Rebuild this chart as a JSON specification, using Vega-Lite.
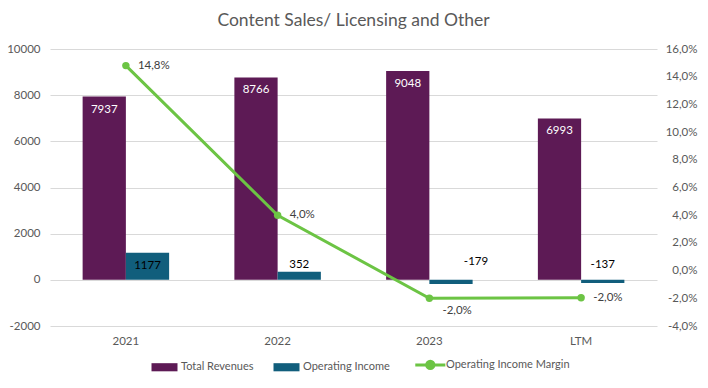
{
  "$schema": "https://vega.github.io/schema/vega-lite/v6.json",
  "autosize": "none",
  "width": 607,
  "height": 277,
  "padding": {"left": 50, "top": 49, "right": 51, "bottom": 62},
  "background": "white",
  "config": {
    "view": {"stroke": null},
    "font": "Lato",
    "locale": {"number": {"decimal": ",", "thousands": ".", "grouping": [3], "currency": ["", " €"], "minus": "-"}},
    "axis": {"labelFont": "Lato", "labelFontSize": 11.5, "labelColor": "#595959", "domain": false, "ticks": false, "title": null}
  },
  "title": {"text": "Content Sales/ Licensing and Other", "fontSize": 17.5, "fontWeight": "normal", "color": "#595959", "font": "Lato", "offset": 14},
  "datasets": {
    "bars": [
      {"cat": "2021", "series": "Total Revenues", "value": 7937},
      {"cat": "2021", "series": "Operating Income", "value": 1177},
      {"cat": "2022", "series": "Total Revenues", "value": 8766},
      {"cat": "2022", "series": "Operating Income", "value": 352},
      {"cat": "2023", "series": "Total Revenues", "value": 9048},
      {"cat": "2023", "series": "Operating Income", "value": -179},
      {"cat": "LTM", "series": "Total Revenues", "value": 6993},
      {"cat": "LTM", "series": "Operating Income", "value": -137}
    ],
    "margin": [
      {"cat": "2021", "margin": 0.148},
      {"cat": "2022", "margin": 0.040},
      {"cat": "2023", "margin": -0.020},
      {"cat": "LTM", "margin": -0.0196}
    ]
  },
  "encoding": {
    "x": {"field": "cat", "type": "nominal", "sort": ["2021", "2022", "2023", "LTM"],
      "scale": {"paddingInner": 0.43, "paddingOuter": 0.215},
      "axis": {"labelAngle": 0, "labelPadding": 9, "grid": false}}
  },
  "layer": [
    {
      "data": {"name": "bars"},
      "layer": [
        {
          "mark": {"type": "bar"},
          "encoding": {
            "xOffset": {"field": "series", "type": "nominal", "sort": ["Total Revenues", "Operating Income"], "scale": {"paddingInner": 0, "paddingOuter": 0}},
            "y": {"field": "value", "type": "quantitative",
              "scale": {"domain": [-2000, 10000], "nice": false},
              "axis": {"values": [-2000, 0, 2000, 4000, 6000, 8000, 10000], "format": "d", "labelPadding": 10, "grid": true, "gridColor": "#d9d9d9", "orient": "left"}},
            "color": {"field": "series", "type": "nominal",
              "scale": {"domain": ["Total Revenues", "Operating Income", "Operating Income Margin"], "range": ["#5d1a55", "#115e7c", "#6cc444"]},
              "legend": {
                "orient": "none", "legendX": 109, "legendY": 310, "direction": "horizontal", "title": null,
                "labelFont": "Lato", "labelFontSize": 11, "labelColor": "#595959",
                "symbolSize": 264, "labelOffset": 11, "columnPadding": 19,
                "encode": {"symbols": {"update": {
                  "shape": {"signal": "datum.value === 'Operating Income Margin' ? 'M-1.75,0H1.95M-0.35,0A0.45,0.45 0 1,0 0.55,0A0.45,0.45 0 1,0 -0.35,0' : 'M-1.6,-0.5H1.6V0.5H-1.6Z'"},
                  "fill": {"scale": "color", "field": "value"},
                  "stroke": {"scale": "color", "field": "value"},
                  "strokeWidth": {"signal": "datum.value === 'Operating Income Margin' ? 3 : 0"},
                  "opacity": {"value": 1}
                }}}
              }}
          }
        },
        {
          "transform": [{"filter": "datum.series === 'Total Revenues'"}],
          "mark": {"type": "text", "dy": 13, "baseline": "middle", "color": "white", "fontSize": 11.5},
          "encoding": {
            "xOffset": {"field": "series", "type": "nominal", "sort": ["Total Revenues", "Operating Income"]},
            "y": {"field": "value", "type": "quantitative"},
            "text": {"field": "value", "type": "quantitative", "format": "d"}
          }
        },
        {
          "transform": [{"filter": "datum.series === 'Operating Income' && datum.cat === '2021'"}],
          "mark": {"type": "text", "dy": 13, "baseline": "middle", "color": "#000000", "fontSize": 11.5},
          "encoding": {
            "xOffset": {"field": "series", "type": "nominal", "sort": ["Total Revenues", "Operating Income"]},
            "y": {"field": "value", "type": "quantitative"},
            "text": {"field": "value", "type": "quantitative", "format": "d"}
          }
        },
        {
          "transform": [{"filter": "datum.series === 'Operating Income' && datum.cat === '2022'"}],
          "mark": {"type": "text", "dy": -7, "baseline": "middle", "color": "#000000", "fontSize": 11.5},
          "encoding": {
            "xOffset": {"field": "series", "type": "nominal", "sort": ["Total Revenues", "Operating Income"]},
            "y": {"field": "value", "type": "quantitative"},
            "text": {"field": "value", "type": "quantitative", "format": "d"}
          }
        },
        {
          "transform": [{"filter": "datum.series === 'Operating Income' && datum.cat === '2023'"}],
          "mark": {"type": "text", "dx": 25, "dy": -22, "baseline": "middle", "color": "#000000", "fontSize": 11.5},
          "encoding": {
            "xOffset": {"field": "series", "type": "nominal", "sort": ["Total Revenues", "Operating Income"]},
            "y": {"field": "value", "type": "quantitative"},
            "text": {"field": "value", "type": "quantitative", "format": "d"}
          }
        },
        {
          "transform": [{"filter": "datum.series === 'Operating Income' && datum.cat === 'LTM'"}],
          "mark": {"type": "text", "dy": -18, "baseline": "middle", "color": "#000000", "fontSize": 11.5},
          "encoding": {
            "xOffset": {"field": "series", "type": "nominal", "sort": ["Total Revenues", "Operating Income"]},
            "y": {"field": "value", "type": "quantitative"},
            "text": {"field": "value", "type": "quantitative", "format": "d"}
          }
        }
      ]
    },
    {
      "data": {"name": "margin"},
      "encoding": {
        "y": {"field": "margin", "type": "quantitative",
          "scale": {"domain": [-0.04, 0.16], "nice": false},
          "axis": {"orient": "right", "values": [-0.04, -0.02, 0, 0.02, 0.04, 0.06, 0.08, 0.1, 0.12, 0.14, 0.16], "format": ".1%", "labelAlign": "right", "labelPadding": 40, "grid": false}}
      },
      "layer": [
        {
          "mark": {"type": "line", "color": "#6cc444", "strokeWidth": 3, "point": {"filled": true, "size": 55, "color": "#6cc444"}},
          "encoding": {"color": {"datum": "Operating Income Margin", "type": "nominal"}}
        },
        {
          "transform": [{"filter": "datum.cat !== '2023'"}],
          "mark": {"type": "text", "dx": 12, "align": "left", "baseline": "middle", "color": "#404040", "fontSize": 11.5},
          "encoding": {"text": {"field": "margin", "type": "quantitative", "format": ".1%"}}
        },
        {
          "transform": [{"filter": "datum.cat === '2023'"}],
          "mark": {"type": "text", "dx": 13, "dy": 13, "align": "left", "baseline": "middle", "color": "#404040", "fontSize": 11.5},
          "encoding": {"text": {"field": "margin", "type": "quantitative", "format": ".1%"}}
        }
      ]
    }
  ],
  "resolve": {"scale": {"y": "independent"}}
}
